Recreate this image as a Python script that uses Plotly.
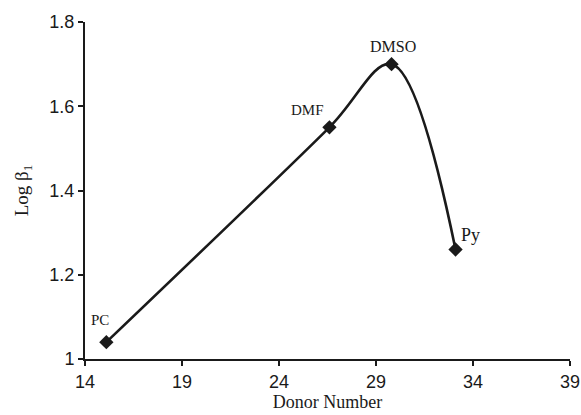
import plotly.graph_objects as go

# Stability constant vs. solvent donor number
solvents = ["PC", "DMF", "DMSO", "Py"]
donor_number = [15.1, 26.6, 29.8, 33.1]
log_beta1 = [1.04, 1.55, 1.70, 1.26]

x_ticks = [14, 19, 24, 29, 34, 39]
y_ticks = [1, 1.2, 1.4, 1.6, 1.8]
y_tick_text = ["1", "1.2", "1.4", "1.6", "1.8"]

# label offsets (pixels) and sizes for each solvent tag
label_shift = {"PC": (-6, 22), "DMF": (-22, 17), "DMSO": (1, 18), "Py": (15, 14)}
label_size = {"PC": 15, "DMF": 15, "DMSO": 16, "Py": 18}

ink = "#1a1a1a"

fig = go.Figure()
fig.add_trace(go.Scatter(
    x=donor_number, y=log_beta1,
    mode="lines+markers",
    line=dict(color=ink, width=2.6, shape="spline", smoothing=1.0),
    marker=dict(symbol="diamond", size=11, color=ink),
    showlegend=False,
    hoverinfo="skip",
))

for name, xv, yv in zip(solvents, donor_number, log_beta1):
    dx, dy = label_shift[name]
    fig.add_annotation(
        x=xv, y=yv, text=name, showarrow=False,
        xshift=dx, yshift=dy,
        font=dict(family="Liberation Serif, Times New Roman, serif",
                  size=label_size[name], color=ink),
    )

axis_common = dict(
    showline=True, linecolor=ink, linewidth=2,
    ticks="outside", ticklen=5, tickwidth=1.5, tickcolor=ink,
    showgrid=False, zeroline=False,
    tickfont=dict(family="Liberation Sans, Arial, sans-serif", size=18, color=ink),
    mirror=False, automargin=False,
)

fig.update_xaxes(
    range=[14, 39], tickvals=x_ticks,
    title=dict(text="Donor Number", standoff=2,
               font=dict(family="Liberation Serif, Times New Roman, serif", size=18, color=ink)),
    **axis_common,
)
fig.update_yaxes(
    range=[1, 1.8], tickvals=y_ticks, ticktext=y_tick_text,
    title=dict(text="Log β<sub>1</sub>", standoff=16,
               font=dict(family="Liberation Serif, Times New Roman, serif", size=19, color=ink)),
    **axis_common,
)

fig.update_layout(
    width=581, height=415,
    margin=dict(l=85, r=11, t=22, b=56),
    plot_bgcolor="white", paper_bgcolor="white",
)

fig.write_html("out.html")
